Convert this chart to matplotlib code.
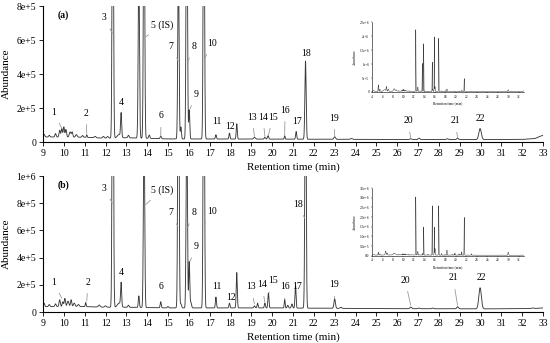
import numpy as np
import matplotlib
matplotlib.use('Agg')
import matplotlib.pyplot as plt

# ---- data (retention time in min, abundance) ----
# sample (a)
rt_a = [4.3, 5.2, 5.5, 6.4, 6.75, 7.1, 8.2, 8.6,
        9.05, 9.3, 9.6, 9.8, 9.9, 10.0, 10.1, 10.3, 10.4, 10.6, 10.9, 11.1, 11.5, 11.9, 12.1,
        12.35, 12.65, 12.75, 13.1, 13.6, 13.85, 14.1, 14.65, 15.5, 15.62, 15.9, 16.02, 16.72,
        17.3, 17.95, 18.3, 19.15, 19.65, 19.8, 20.6, 21.15, 21.6, 23.0, 23.8,
        26.65, 27.05, 28.4, 28.9, 29.98]
h_a = [3e4, 2.3e5, 8e4, 6e4, 1.6e5, 8e4, 9e4, 5e4,
       1.5e4, 1e4, 2e4, 4e4, 5e4, 6e4, 4.5e4, 3e4, 3e4, 1.5e4, 1e4, 1.5e4, 8e3, 1e4, 1e4,
       2.2e6, 2e4, 1.4e5, 1.5e4, 1.0e6, 1.7e6, 2e4, 1.5e4, 1.05e6, 7e4, 1.95e6, 1.7e5, 1.9e6,
       2.5e4, 3.5e4, 9e4, 1e4, 1e4, 2e4, 2e4, 4.5e4, 4.6e5, 1.5e4, 5e3,
       5e3, 8e3, 5e3, 8e3, 6.5e4]
w_a = [0.1, 0.04, 0.05, 0.2, 0.05, 0.08, 0.12, 0.1,
       0.03, 0.03, 0.03, 0.03, 0.03, 0.03, 0.03, 0.04, 0.03, 0.04, 0.03, 0.02, 0.04, 0.04, 0.04,
       0.03, 0.08, 0.025, 0.03, 0.03, 0.03, 0.03, 0.03, 0.03, 0.025, 0.03, 0.025, 0.03,
       0.025, 0.025, 0.025, 0.04, 0.03, 0.03, 0.02, 0.025, 0.03, 0.04, 0.05,
       0.04, 0.04, 0.04, 0.04, 0.06]
base_rt_a = [3.5, 9, 11, 12, 13, 15, 20, 25, 30, 32, 32.6, 33]
base_a = [2e4, 3e4, 2.8e4, 2.2e4, 2.5e4, 1.8e4, 1.7e4, 1.5e4, 1.4e4, 1.5e4, 2e4, 4e4]

# sample (b)
rt_b = [4.3, 5.2, 5.5, 6.6, 6.9, 8.2, 8.5,
        9.05, 9.3, 9.6, 9.8, 9.95, 10.05, 10.2, 10.35, 10.5, 10.7, 11.05, 11.7, 12.0,
        12.35, 12.65, 12.75, 13.1, 13.6, 13.85, 14.65, 15.0, 15.5, 15.62, 15.9, 16.02, 16.1,
        16.72, 17.3, 17.95, 18.3, 19.15, 19.3, 19.65, 19.82, 20.6, 20.75, 20.95, 21.12, 21.6,
        23.0, 23.3, 26.65, 27.05, 27.7, 28.9, 29.98, 32.5]
h_b = [3e4, 1.5e5, 6e4, 2e5, 1e5, 1e5, 5e4,
       2.5e4, 1.5e4, 2e4, 5e4, 3.5e4, 6e4, 4e4, 5e4, 2.5e4, 1.5e4, 3e4, 1.5e4, 1e4,
       3.0e6, 3e4, 1.7e5, 1.5e4, 8.5e4, 1.45e6, 4.5e4, 1e4, 2.55e6, 3e4, 1.45e6, 3.4e5, 4e4,
       2.55e6, 8e4, 3.5e4, 2.6e5, 1.5e4, 3.5e4, 3.5e4, 1.1e5, 6.5e4, 2e4, 3e4, 1.7e5, 1.95e6,
       7e4, 8e3, 1.2e4, 5e3, 5e3, 1.5e4, 1.55e5, 5e3]
w_b = [0.1, 0.04, 0.05, 0.08, 0.06, 0.12, 0.1,
       0.03, 0.03, 0.03, 0.03, 0.03, 0.03, 0.04, 0.03, 0.04, 0.04, 0.02, 0.04, 0.04,
       0.03, 0.08, 0.025, 0.03, 0.025, 0.03, 0.025, 0.03, 0.03, 0.03, 0.03, 0.025, 0.03,
       0.03, 0.025, 0.025, 0.025, 0.03, 0.025, 0.025, 0.025, 0.02, 0.03, 0.03, 0.025, 0.03,
       0.035, 0.04, 0.04, 0.04, 0.04, 0.04, 0.06, 0.05]
base_rt_b = [3.5, 9, 11, 12, 13, 15, 20, 25, 30, 32.5, 33]
base_b = [3e4, 4e4, 4e4, 3.5e4, 3.5e4, 3e4, 3e4, 2.5e4, 2.3e4, 2.5e4, 3e4]

# peak labels: (text, text x, text y, tip x, tip y) ; tip None -> no leader line
labels_a = [('1', 9.53, 1.76e5, 9.9, 8e4), ('2', 11.06, 1.7e5, 11.1, 5e4),
            ('3', 11.93, 7.3e5, 12.33, 6.4e5), ('4', 12.74, 2.3e5, None, None),
            ('5 (IS)', 14.71, 6.9e5, 13.95, 6.2e5), ('6', 14.67, 1.53e5, 14.65, 3.5e4),
            ('7', 15.15, 5.6e5, 15.48, 4.8e5), ('8', 16.25, 5.6e5, 15.94, 4.7e5),
            ('9', 16.35, 2.8e5, 16.04, 1.9e5), ('10', 17.11, 5.8e5, 16.76, 4.9e5),
            ('11', 17.35, 1.18e5, None, None), ('12', 17.98, 9.4e4, None, None),
            ('13', 19.03, 1.47e5, 19.15, 3.2e4), ('14', 19.56, 1.47e5, 19.65, 3.2e4),
            ('15', 20.04, 1.47e5, 19.82, 4e4), ('16', 20.62, 1.88e5, 20.6, 4e4),
            ('17', 21.19, 1.18e5, None, None), ('18', 21.63, 5.2e5, None, None),
            ('19', 22.97, 1.41e5, 23.0, 3.3e4), ('20', 26.52, 1.24e5, 26.65, 2.2e4),
            ('21', 28.78, 1.24e5, 28.9, 2.5e4), ('22', 29.98, 1.41e5, None, None)]
labels_b = [('1', 9.53, 2.2e5, 9.9, 1e5), ('2', 11.16, 2.2e5, 11.1, 8e4),
            ('3', 11.93, 9.1e5, 12.33, 8.0e5), ('4', 12.74, 2.87e5, None, None),
            ('5 (IS)', 14.71, 8.97e5, 13.93, 7.9e5), ('6', 14.67, 1.84e5, None, None),
            ('7', 15.15, 7.3e5, 15.48, 6.25e5), ('8', 16.25, 7.3e5, 15.94, 6.2e5),
            ('9', 16.35, 4.8e5, 16.05, 3.7e5), ('10', 17.11, 7.4e5, 16.76, 6.5e5),
            ('11', 17.35, 1.84e5, None, None), ('12', 18.03, 1.1e5, None, None),
            ('13', 18.99, 1.84e5, 19.15, 6e4), ('14', 19.51, 2.0e5, 19.65, 7e4),
            ('15', 20.04, 2.28e5, 19.85, 1.4e5), ('16', 20.62, 1.84e5, 20.6, 9e4),
            ('17', 21.19, 1.84e5, None, None), ('18', 21.24, 7.9e5, 21.56, 6.9e5),
            ('19', 22.97, 2.0e5, 23.0, 1e5), ('20', 26.38, 2.35e5, 26.65, 5e4),
            ('21', 28.68, 2.5e5, 28.9, 5e4), ('22', 30.03, 2.57e5, None, None)]

yt_a = [0, 2e5, 4e5, 6e5, 8e5]
ytl_a = ['0', '2e+5', '4e+5', '6e+5', '8e+5']
yt_b = [0, 2e5, 4e5, 6e5, 8e5, 1e6]
ytl_b = ['0', '2e+5', '4e+5', '6e+5', '8e+5', '1e+6']
yt_ia = [0, 5e5, 1e6, 1.5e6, 2e6, 2.5e6]
ytl_ia = ['0', '5e+5', '1e+6', '1.5e+6', '2e+6', '2.5e+6']
yt_ib = [0, 5e5, 1e6, 1.5e6, 2e6, 2.5e6, 3e6, 3.5e6]
ytl_ib = ['0.0', '5.0e+5', '1.0e+6', '1.5e+6', '2.0e+6', '2.5e+6', '3.0e+6', '3.5e+6']


def trace(t, rts, hs, ws, brt, blv):
    y = np.interp(t, brt, blv)
    for r, h, w in zip(rts, hs, ws):
        y = y + h * np.exp(-0.5 * ((t - r) / w) ** 2)
    return y


plt.rcParams.update({'font.family': 'serif',
                     'font.serif': ['Liberation Serif', 'DejaVu Serif']})

t = np.linspace(3.5, 33, 14000)
ya = trace(t, rt_a, h_a, w_a, base_rt_a, base_a)
yb = trace(t, rt_b, h_b, w_b, base_rt_b, base_b)

fig = plt.figure(figsize=(5.5, 3.43), dpi=100)
W, H = 550, 343


def px_axes(x0, x1, y_top, y_bot):
    return fig.add_axes([x0 / W, (H - y_bot) / H, (x1 - x0) / W, (y_bot - y_top) / H])


line_c = '#3a3a3a'
panels = [(ya, 8e5, yt_a, ytl_a, labels_a, '(a)', 6, 142, yt_ia, ytl_ia, 2.5e6, 22, 92),
          (yb, 1e6, yt_b, ytl_b, labels_b, '(b)', 176, 312, yt_ib, ytl_ib, 3.5e6, 188, 255.7)]

for y, ymax, yt, ytl, labs, tag, ptop, pbot, iyt, iytl, iymax, itop, ibot in panels:
    ax = px_axes(43, 543, ptop, pbot)
    mask = t >= 9
    ax.plot(t[mask], y[mask], color=line_c, lw=0.65)
    ax.set_xlim(9, 33)
    ax.set_ylim(0, ymax)
    ax.set_xticks(range(9, 34))
    ax.set_yticks(yt)
    ax.set_yticklabels(ytl)
    for s in ['top', 'right']:
        ax.spines[s].set_visible(False)
    for s in ['left', 'bottom']:
        ax.spines[s].set_linewidth(0.8)
    ax.tick_params(labelsize=7, length=3, width=0.6, pad=2)
    ax.set_ylabel('Abundance', fontsize=8, labelpad=4)
    ax.set_xlabel('Retention time (min)', fontsize=8, labelpad=3)
    ax.text(9.96, ymax * 0.935, tag, fontsize=7, fontweight='bold', ha='center', va='center')
    for txt, tx, ty, px, py in labs:
        if px is None:
            ax.text(tx, ty, txt, fontsize=7, ha='center', va='center')
        else:
            ax.annotate(txt, xy=(px, py), xytext=(tx, ty), fontsize=7,
                        ha='center', va='center',
                        arrowprops=dict(arrowstyle='-', color='#999999', lw=0.6,
                                        shrinkA=3, shrinkB=0))

    # inset with the full run
    ix = px_axes(372, 524, itop, ibot)
    ix.plot(t, y, color=line_c, lw=0.35)
    ix.set_xlim(4, 33)
    ix.set_ylim(0, iymax)
    ix.set_xticks(range(4, 33, 2))
    ix.set_yticks(iyt)
    ix.set_yticklabels(iytl)
    for s in ['top', 'right']:
        ix.spines[s].set_visible(False)
    for s in ['left', 'bottom']:
        ix.spines[s].set_linewidth(0.4)
    ix.tick_params(labelsize=2.5, length=1, width=0.3, pad=1)
    ix.set_xlabel('Retention time (min)', fontsize=2.5, labelpad=2)
    ix.set_ylabel('Abundance', fontsize=2.5, labelpad=2)

fig.savefig('out.png', dpi=100)
